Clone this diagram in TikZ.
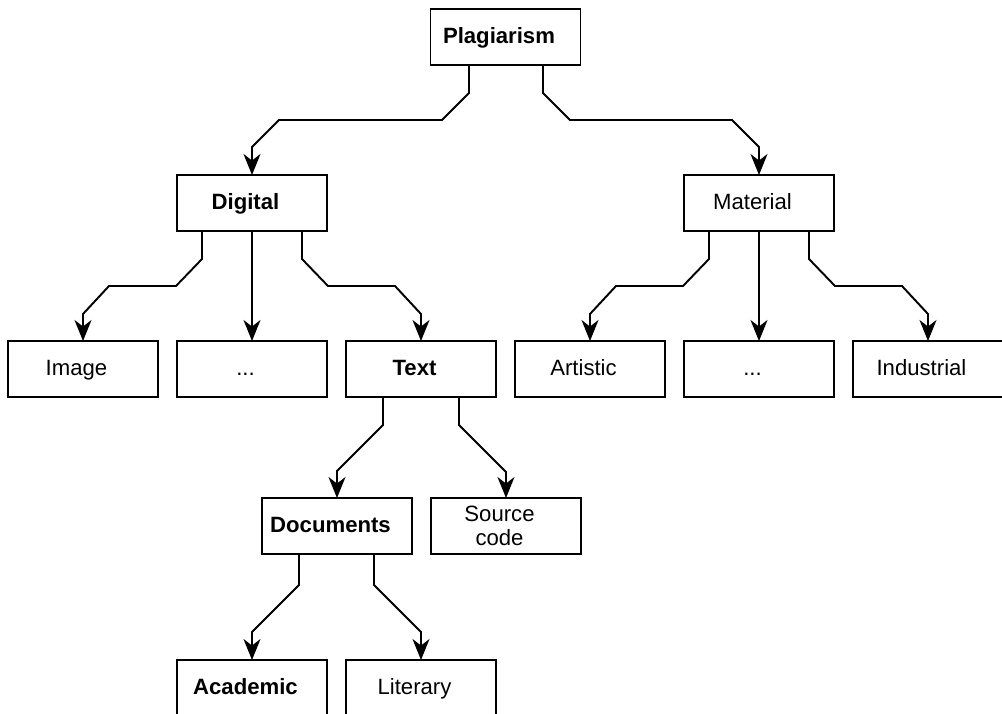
\documentclass[tikz,border=0pt]{standalone}
\usepackage{fontspec}
\setmainfont{Liberation Sans}
\usetikzlibrary{arrows.meta}

\tikzset{
  box/.style={draw, line width=1.1pt, minimum width=3cm, minimum height=1.12cm,
    inner sep=0pt, outer sep=0pt, text height=0.72em, text depth=0pt,
    font=\fontsize{12.6}{14}\selectfont,
    execute at begin node={\hspace*{-0.26cm}}},
  strong/.style={box, font=\fontsize{12.6}{14}\selectfont\bfseries},
  twoline/.style={box, text height=, text depth=, align=center,
    execute at begin node=},
  link/.style={line width=1.1pt, line join=miter,
    -{Stealth[length=0.42cm, width=0.34cm, inset=0.13cm]}}
}

\begin{document}
\begin{tikzpicture}[x=0.02cm, y=-0.02cm]
\useasboundingbox (0,0) rectangle (1002,714);

% the root
\node[strong] (plag) at (505.5,37) {Plagiarism};
% second level
\node[strong] (dig) at (252,203) {Digital};
\node[box] (mat) at (759,203) {Material};
% third level
\node[box] (img) at (83,369) {Image};
\node[box] (dotsA) at (252,369) {...};
\node[strong] (text) at (421,369) {Text};
\node[box] (art) at (590,369) {Artistic};
\node[box] (dotsB) at (759,369) {...};
\node[box] (ind) at (928,369) {Industrial};
% below Text
\node[strong] (docs) at (337,526) {Documents};
\node[twoline] (src) at (506,526) {Source\\code};
% below Documents
\node[strong] (acad) at (252,688) {Academic};
\node[box] (lit) at (421,688) {Literary};

% root to second level
\draw[link] ([shift={(-36.5,0)}]plag.south) -- ++(0,28) -- ++(-27,27)
  -- ([shift={(27,-55)}]dig.north) -- ++(-27,27) -- (dig.north);
\draw[link] ([shift={(37.5,0)}]plag.south) -- ++(0,28) -- ++(27,27)
  -- ([shift={(-27,-55)}]mat.north) -- ++(27,27) -- (mat.north);

% second level to third level
\foreach \up/\lft/\mid/\rgt in {dig/img/dotsA/text, mat/art/dotsB/ind}
{
  \draw[link] ([shift={(-50,0)}]\up.south) -- ++(0,28) -- ++(-26,27)
    -- ([shift={(26,-55)}]\lft.north) -- ++(-26,28) -- (\lft.north);
  \draw[link] (\up.south) -- (\mid.north);
  \draw[link] ([shift={(50,0)}]\up.south) -- ++(0,28) -- ++(26,27)
    -- ([shift={(-26,-55)}]\rgt.north) -- ++(26,28) -- (\rgt.north);
}

% Text to its children
\draw[link] ([shift={(-38,0)}]text.south) -- ++(0,28)
  -- ([shift={(0,-27)}]docs.north) -- (docs.north);
\draw[link] ([shift={(38,0)}]text.south) -- ++(0,28)
  -- ([shift={(0,-26)}]src.north) -- (src.north);

% Documents to its children
\draw[link] ([shift={(-38,0)}]docs.south) -- ++(0,31)
  -- ([shift={(0,-28)}]acad.north) -- (acad.north);
\draw[link] ([shift={(37,0)}]docs.south) -- ++(0,31)
  -- ([shift={(0,-28)}]lit.north) -- (lit.north);
\end{tikzpicture}
\end{document}
